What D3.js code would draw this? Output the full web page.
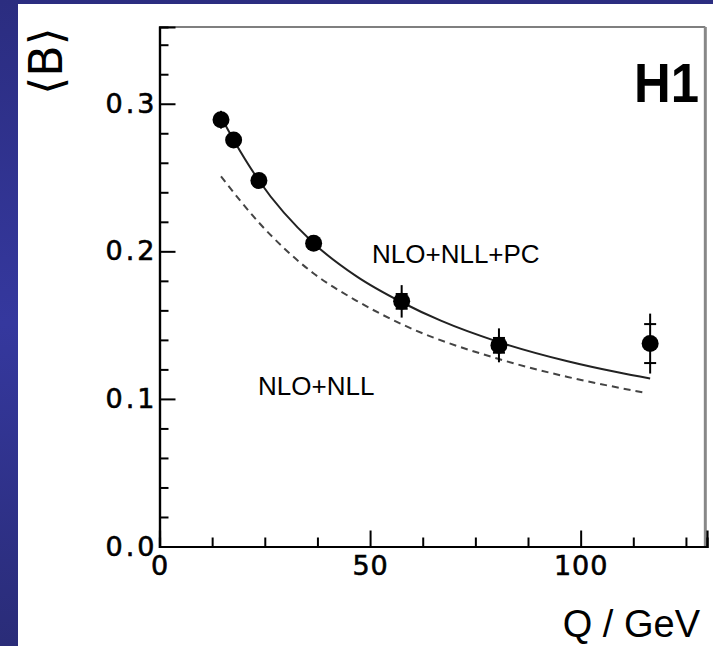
<!DOCTYPE html>
<html><head><meta charset="utf-8">
<script src="https://cdn.jsdelivr.net/npm/d3@7"></script>
<style>body{margin:0;overflow:hidden;background:#2e3190}</style>
</head><body><svg id="c" width="713" height="646"></svg>
<script>
// ---- data ----
const Q        = [14.6, 17.6, 23.6, 36.6, 57.5, 80.6, 116.5];
const B        = [0.2892, 0.2755, 0.2480, 0.2055, 0.1661, 0.1363, 0.1375];
const errTot   = [0.006, 0.004, 0.004, 0.004, 0.011, 0.0115, 0.0203];
const errStat  = [0.003, 0.002, 0.002, 0.002, 0.005, 0.005, 0.0132];
const pcQ  = [14.6, 17.6, 23.6, 36.6, 46.8, 57.5, 66.8, 80.6, 96.9, 108.8, 116.5];
const pcB  = [0.291, 0.2755, 0.248, 0.2055, 0.183, 0.1655, 0.153, 0.1385, 0.1255, 0.118, 0.1138];
const nllQ = [14.6, 23.6, 36.6, 46.8, 58.0, 80.6, 96.9, 115.1];
const nllB = [0.2508, 0.2195, 0.185, 0.1665, 0.150, 0.127, 0.1149, 0.1043];
const yMajor = [0, 0.1, 0.2, 0.3];
const yMinor = [0.02, 0.04, 0.06, 0.08, 0.12, 0.14, 0.16, 0.18, 0.22, 0.24, 0.26, 0.28, 0.32, 0.34];
const xMajor = [0, 50, 100];
const xMinor = [12.5, 25, 37.5, 62.5, 75, 87.5, 112.5, 125];
const yLabels = ["0.0", "0.1", "0.2", "0.3"];
const labelPC = "NLO+NLL+PC", labelNLL = "NLO+NLL", logo = "H1";
const xTitle = "Q / GeV", yTitle = "\u27E8B\u27E9";

const svg = d3.select("#c");
const defs = svg.append("defs");
const g = defs.append("linearGradient").attr("id","bg").attr("x1",0).attr("y1",0).attr("x2",0).attr("y2",1);
g.append("stop").attr("offset","0%").attr("stop-color","#2b2d80");
g.append("stop").attr("offset","50%").attr("stop-color","#35389e");
g.append("stop").attr("offset","100%").attr("stop-color","#2a2c78");
svg.append("rect").attr("width",713).attr("height",646).attr("fill","url(#bg)");
svg.append("rect").attr("x",18).attr("y",4).attr("width",713-18).attr("height",646-4).attr("fill","#fff");

const x = d3.scaleLinear().domain([0,130]).range([159.5,707]);
const y = d3.scaleLinear().domain([0,0.352]).range([546.5,27]);

// frame top & right
svg.append("line").attr("x1",x(0)).attr("x2",x(129.6)).attr("y1",y(0.352)).attr("y2",y(0.352))
  .attr("stroke","#555").attr("stroke-width",1.5);
svg.append("line").attr("x1",x(129.6)).attr("x2",x(129.6)).attr("y1",y(0.352)).attr("y2",y(0))
  .attr("stroke","#888").attr("stroke-width",3);

const fontTick = "DejaVu Sans, sans-serif";
// y axis
const ya = svg.append("g").attr("transform",`translate(${x(0)},0)`)
  .call(d3.axisLeft(y).tickValues(yMajor).tickSize(-16).tickPadding(2).tickFormat((d,i)=>yLabels[i]));
ya.append("g").call(d3.axisLeft(y).tickValues(yMinor).tickSize(-9).tickFormat(""));
// x axis
const xa = svg.append("g").attr("transform",`translate(0,${y(0)})`)
  .call(d3.axisBottom(x).tickValues(xMajor).tickSize(-16).tickPadding(9).tickFormat(d3.format("d")));
xa.append("g").call(d3.axisBottom(x).tickValues(xMinor).tickSize(-9).tickFormat(""));
[ya, xa].forEach(a=>{
  a.selectAll(".domain").attr("stroke","#000").attr("stroke-width",2.2);
  a.selectAll(".tick line").attr("stroke","#000").attr("stroke-width",2);
  a.selectAll("text").attr("font-family",fontTick).attr("font-size",27).attr("fill","#000")
    .attr("stroke","#000").attr("stroke-width",0.6);
});
ya.selectAll(".tick text").attr("letter-spacing",3);
xa.selectAll(".tick text").attr("letter-spacing",1);

// curves
const line = d3.line().x(d=>x(d[0])).y(d=>y(d[1])).curve(d3.curveMonotoneX);
svg.append("path").attr("d", line(nllQ.map((q,i)=>[q,nllB[i]])))
  .attr("fill","none").attr("stroke","#444").attr("stroke-width",2).attr("stroke-dasharray","7,5");
svg.append("path").attr("d", line(pcQ.map((q,i)=>[q,pcB[i]])))
  .attr("fill","none").attr("stroke","#222").attr("stroke-width",2);

// data points
const pts = svg.append("g");
Q.forEach((q,i)=>{
  pts.append("line").attr("x1",x(q)).attr("x2",x(q)).attr("y1",y(B[i]-errTot[i])).attr("y2",y(B[i]+errTot[i]))
    .attr("stroke","#000").attr("stroke-width",2);
  [-1,1].forEach(s=>{
    pts.append("line").attr("x1",x(q)-6).attr("x2",x(q)+6)
      .attr("y1",y(B[i]+s*errStat[i])).attr("y2",y(B[i]+s*errStat[i]))
      .attr("stroke","#000").attr("stroke-width",2);
  });
  pts.append("circle").attr("cx",x(q)).attr("cy",y(B[i])).attr("r",8.5).attr("fill","#000");
});

// texts
svg.append("text").attr("x",372).attr("y",263).attr("font-family","Liberation Sans, Arial, sans-serif")
  .attr("font-size",26).text(labelPC);
svg.append("text").attr("x",258).attr("y",395).attr("font-family","Liberation Sans, Arial, sans-serif")
  .attr("font-size",26).text(labelNLL);
svg.append("text").attr("x",634).attr("y",102).attr("font-family","Liberation Sans, Arial, sans-serif")
  .attr("font-weight","bold").attr("font-size",56).attr("textLength",65).attr("lengthAdjust","spacingAndGlyphs").text(logo);
svg.append("text").attr("x",700).attr("y",637).attr("text-anchor","end").attr("font-family","Liberation Sans, Arial, sans-serif")
  .attr("font-size",38).text(xTitle);
svg.append("text").attr("transform","translate(62,61) rotate(-90)").attr("text-anchor","middle")
  .attr("font-family","DejaVu Sans, sans-serif").attr("font-size",46).text(yTitle);
</script></body></html>
